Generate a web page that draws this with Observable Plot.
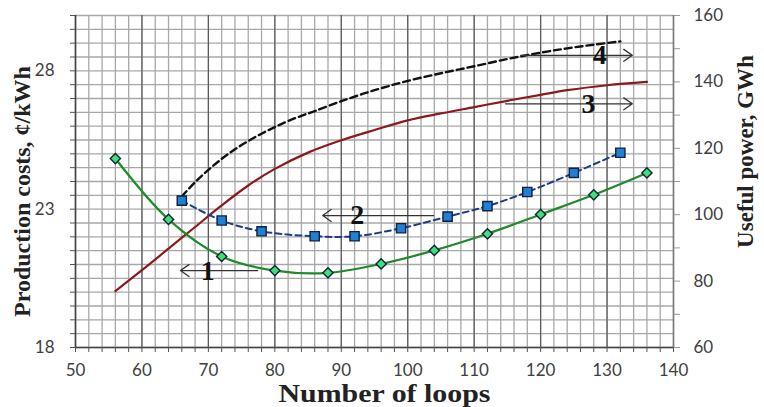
<!DOCTYPE html>
<html>
<head>
<meta charset="utf-8">
<script src="https://cdn.jsdelivr.net/npm/d3@7"></script>
<script src="https://cdn.jsdelivr.net/npm/@observablehq/plot@0.6"></script>
<style>
  html, body { margin: 0; padding: 0; background: #fff; }
  #chart svg { display: block; }
</style>
</head>
<body>
<div id="chart"></div>
<script>
// ---- data ----
// Curve 1: production costs (left axis, ¢/kWh)
const loops1 = [56, 64, 72, 80, 88, 96, 104, 112, 120, 128, 136];
const cost1  = [24.83, 22.63, 21.29, 20.78, 20.70, 21.02, 21.51, 22.11, 22.81, 23.52, 24.31];
// Curve 2: production costs (left axis, ¢/kWh)
const loops2 = [66, 72, 78, 86, 92, 99, 106, 112, 118, 125, 132];
const cost2  = [23.31, 22.59, 22.20, 22.02, 22.02, 22.31, 22.73, 23.11, 23.62, 24.31, 25.04];
// Curve 3: useful power (right axis, GWh)
const loops3 = [56, 60, 64, 68, 72, 76, 80, 85, 90, 95, 100, 105, 110, 115, 120, 124, 130, 136];
const power3 = [77, 83.3, 89.8, 96.3, 102.8, 108.8, 113.8, 118.7, 122.4, 125.5, 128.4, 130.5, 132.4, 134.3, 136.1, 137.5, 139, 140];
// Curve 4: useful power (right axis, GWh)
const loops4 = [66, 68, 70, 72, 74, 76, 78, 80, 82, 84, 86, 90, 95, 100, 105, 110, 115, 120, 124, 128, 132];
const power4 = [105.5, 109.8, 113.5, 116.8, 119.7, 122.2, 124.4, 126.4, 128.2, 129.8, 131.2, 134.2, 137.5, 140.3, 142.6, 144.7, 146.9, 148.8, 150.1, 151.2, 152.2];
// Curve annotations (arrow from / to in loops, level in the curve's own axis units)
const annLabels = ["1", "2", "3", "4"];
const annAxis   = ["left", "left", "right", "right"];
const annFrom   = [77.4, 103.9, 114.7, 117];
const annTo     = [65.8, 87.2, 133.8, 133.8];
const annLevel  = [20.78, 22.77, 133.4, 148];
const annLabelX = [69.9, 92.4, 127.2, 128.9];
// Axis ticks
const xTickLabels = [50, 60, 70, 80, 90, 100, 110, 120, 130, 140];
const leftTickLabels = [18, 23, 28];
const rightTickLabels = [60, 80, 100, 120, 140, 160];
const xTitle = "Number of loops";
const leftTitle = "Production costs, ¢/kWh";
const rightTitle = "Useful power, GWh";

// ---- scales ----
const leftDomain = [18, 30];
const rightDomain = [60, 160];
const toLeft = v => leftDomain[0] + (v - rightDomain[0]) * (leftDomain[1] - leftDomain[0]) / (rightDomain[1] - rightDomain[0]);
const fromLeft = v => rightDomain[0] + (v - leftDomain[0]) * (rightDomain[1] - rightDomain[0]) / (leftDomain[1] - leftDomain[0]);

const c1 = loops1.map((x, i) => ({x, y: cost1[i]}));
const c2 = loops2.map((x, i) => ({x, y: cost2[i]}));
const c3 = loops3.map((x, i) => ({x, y: toLeft(power3[i])}));
const c4 = loops4.map((x, i) => ({x, y: toLeft(power4[i])}));
const ann = annLabels.map((label, i) => {
  const y = annAxis[i] === "left" ? annLevel[i] : toLeft(annLevel[i]);
  return {label, x1: annFrom[i], x2: annTo[i], y, lx: annLabelX[i]};
});

const serif = "'Liberation Serif', 'Times New Roman', serif";
const minorX = d3.range(50, 141, 2);
const majorX = d3.range(50, 141, 10);
const gridY = d3.range(18, 30.001, 0.5);
const rightTicks = d3.range(60, 161, 10).map(toLeft);

const chart = Plot.plot({
  width: 764,
  height: 407,
  marginLeft: 75,
  marginRight: 91,
  marginTop: 15,
  marginBottom: 60,
  style: {fontFamily: "Lato, 'Open Sans', sans-serif", fontSize: "17px", color: "#404040", background: "#fff"},
  x: {domain: [50, 140], axis: null},
  y: {domain: leftDomain, axis: null},
  marks: [
    // grid
    Plot.ruleY(gridY, {stroke: "#a8a8a8", strokeWidth: 1.3}),
    Plot.ruleX(minorX, {stroke: "#a8a8a8", strokeWidth: 1.3}),
    Plot.ruleX(majorX, {stroke: "#5a5a5a", strokeWidth: 1.2}),
    Plot.ruleY([leftDomain[0]], {stroke: "#444", strokeWidth: 1.5}),
    Plot.ruleX([50], {stroke: "#444", strokeWidth: 1.5}),
    Plot.ruleX([140], {stroke: "#777", strokeWidth: 1.3}),
    // axes
    Plot.axisX(minorX, {anchor: "bottom", label: null, tickSize: 5, tickPadding: 11, stroke: "#555",
      tickFormat: d => xTickLabels.includes(d) ? String(d) : ""}),
    Plot.axisY(gridY, {anchor: "left", label: null, tickSize: 5, tickPadding: 16, stroke: "#555",
      tickFormat: d => leftTickLabels.includes(d) ? String(d) : ""}),
    Plot.axisY(rightTicks, {anchor: "right", label: null, tickSize: 6, tickPadding: 14, stroke: "#999",
      tickFormat: d => { const v = Math.round(fromLeft(d)); return rightTickLabels.includes(v) ? String(v) : ""; }}),
    // curves
    Plot.line(c3, {x: "x", y: "y", stroke: "#8b1a1a", strokeWidth: 2.2, curve: "catmull-rom"}),
    Plot.line(c4, {x: "x", y: "y", stroke: "#111", strokeWidth: 2.4, strokeDasharray: "7,4", curve: "catmull-rom"}),
    Plot.line(c2, {x: "x", y: "y", stroke: "#1f3b86", strokeWidth: 2, strokeDasharray: "6,4", curve: "catmull-rom"}),
    Plot.line(c1, {x: "x", y: "y", stroke: "#1f8a2a", strokeWidth: 2.2, curve: "catmull-rom"}),
    Plot.dot(c2, {x: "x", y: "y", symbol: "square", r: 5.2, fill: "#1f80d4", stroke: "#102040", strokeWidth: 1.4}),
    Plot.dot(c1, {x: "x", y: "y", symbol: "diamond2", r: 4.6, fill: "#3ee07a", stroke: "#123", strokeWidth: 1.4}),
    // annotations
    Plot.arrow(ann, {x1: "x1", y1: "y", x2: "x2", y2: "y", stroke: "#333", strokeWidth: 1.3, headLength: 12, headAngle: 70}),
    Plot.text(ann, {x: "lx", y: "y", text: "label", fontFamily: serif, fontWeight: "bold", fontSize: 28, fill: "#111"}),
    // axis titles
    Plot.text([xTitle], {frameAnchor: "bottom", textAnchor: "middle", lineAnchor: "middle", dx: 10, dy: 46,
      fontFamily: serif, fontWeight: "bold", fontSize: 25, fill: "#222", className: "xtitle"}),
    Plot.text([leftTitle], {frameAnchor: "left", textAnchor: "middle", lineAnchor: "middle", dx: -53, dy: 10, rotate: -90,
      fontFamily: serif, fontWeight: "bold", fontSize: 24, fill: "#222"}),
    Plot.text([rightTitle], {frameAnchor: "right", textAnchor: "middle", lineAnchor: "middle", dx: 72, dy: -30, rotate: -90,
      fontFamily: serif, fontWeight: "bold", fontSize: 23, fill: "#222"})
  ]
});
// the reference's x title is a little wider than the font draws it
d3.select(chart).selectAll(".xtitle text").attr("textLength", 212).attr("lengthAdjust", "spacingAndGlyphs");
document.getElementById("chart").appendChild(chart);
</script>
</body>
</html>
